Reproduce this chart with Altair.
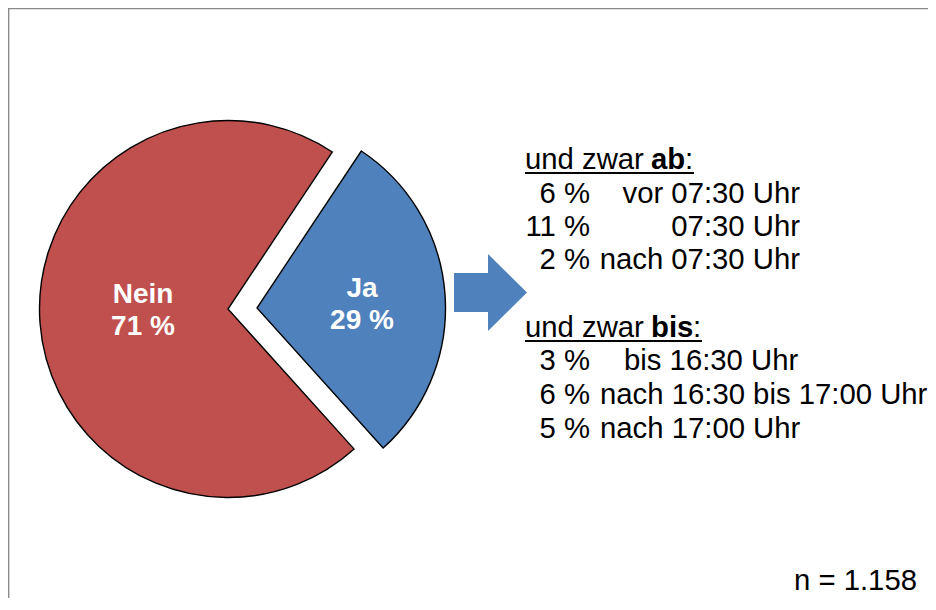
import math
import altair as alt
import pandas as pd

# ---- data ----
categories = ["Ja", "Nein"]
shares = [29, 71]
ab_shares = [6, 11, 2]
ab_times = ["vor 07:30 Uhr", "07:30 Uhr", "nach 07:30 Uhr"]
bis_shares = [3, 6, 5]
bis_times = ["bis 16:30 Uhr", "nach 16:30 bis 17:00 Uhr", "nach 17:00 Uhr"]
sample_note = "n = 1.158"

# ---- style / layout ----
RED = "#C0504D"
BLUE = "#4F81BD"
FONT = "Liberation Sans"
W, H = 920, 590
start_angle = math.radians(33.6)
radius = 188.5

pie_df = pd.DataFrame({"cat": categories, "share": shares})
pie_df["end"] = pie_df["share"].cumsum()
pie_df["start"] = pie_df["end"] - pie_df["share"]
pie_df["label"] = pie_df["share"].astype(str) + " %"

theta_scale = alt.Scale(domain=[0, 100], range=[start_angle, start_angle + 2 * math.pi])
color_scale = alt.Scale(domain=categories, range=[BLUE, RED])

centers = {"Nein": (220, 301), "Ja": (249, 300)}
label_pos = {"Nein": (135, 295), "Ja": (354, 289)}

layers = []

# frame
frame_df = pd.DataFrame({"a": [0]})
layers.append(alt.Chart(frame_df).mark_rule(color="#8a8a8a", strokeWidth=1.5).encode(
    x=alt.value(0), x2=alt.value(W), y=alt.value(0.6)))
layers.append(alt.Chart(frame_df).mark_rule(color="#8a8a8a", strokeWidth=1.5).encode(
    x=alt.value(0.6), y=alt.value(0), y2=alt.value(H)))

# pie slices (Ja exploded)
for cat in categories:
    cx, cy = centers[cat]
    layers.append(
        alt.Chart(pie_df[pie_df["cat"] == cat])
        .mark_arc(outerRadius=radius, stroke="black", strokeWidth=1.4)
        .encode(
            theta=alt.Theta("start:Q", scale=theta_scale),
            theta2="end:Q",
            color=alt.Color("cat:N", scale=color_scale, legend=None),
            x=alt.value(cx),
            y=alt.value(cy),
        )
    )

# pie labels
lab_df = pie_df.copy()
lab_df["x"] = [label_pos[c][0] for c in lab_df["cat"]]
lab_df["y"] = [label_pos[c][1] for c in lab_df["cat"]]
lab_df["y2"] = lab_df["y"] + 32
layers.append(alt.Chart(lab_df).mark_text(font=FONT, fontSize=28, fontWeight="bold", color="white",
                                          align="center", baseline="alphabetic").encode(
    x=alt.X("x:Q", scale=None), y=alt.Y("y:Q", scale=None), text="cat:N"))
layers.append(alt.Chart(lab_df).mark_text(font=FONT, fontSize=28, fontWeight="bold", color="white",
                                          align="center", baseline="alphabetic").encode(
    x=alt.X("x:Q", scale=None), y=alt.Y("y2:Q", scale=None), text="label:N"))

# arrow
arrow_path = ("M -0.948 -0.506 L -0.065 -0.506 L -0.065 -1 L 0.948 0 "
              "L -0.065 1 L -0.065 0.506 L -0.948 0.506 Z")
layers.append(alt.Chart(frame_df).mark_point(shape=arrow_path, size=77 * 77, filled=True,
                                             color=BLUE, opacity=1, strokeWidth=0).encode(
    x=alt.value(482.5), y=alt.value(284.5)))

# headers
hdr_df = pd.DataFrame({"t": ["und zwar", "und zwar"], "b": ["ab", "bis"],
                       "y": [161, 329], "cx": [677, 685]})
txt = dict(font=FONT, fontSize=29.3, color="black", baseline="alphabetic")
layers.append(alt.Chart(hdr_df).mark_text(align="left", **txt).encode(
    x=alt.value(517), y=alt.Y("y:Q", scale=None), text="t:N"))
layers.append(alt.Chart(hdr_df).mark_text(align="left", fontWeight="bold", **txt).encode(
    x=alt.value(643), y=alt.Y("y:Q", scale=None), text="b:N"))
layers.append(alt.Chart(hdr_df.assign(c=":")).mark_text(align="left", **txt).encode(
    x=alt.X("cx:Q", scale=None), y=alt.Y("y:Q", scale=None), text="c:N"))
ul_df = pd.DataFrame({"x1": [517, 517], "x2": [686, 694], "y": [165, 333]})
layers.append(alt.Chart(ul_df).mark_rule(color="black", strokeWidth=2).encode(
    x=alt.X("x1:Q", scale=None), x2="x2:Q", y=alt.Y("y:Q", scale=None)))

# detail lines
ab_df = pd.DataFrame({"pct": [f"{v} %" for v in ab_shares], "time": ab_times,
                      "y": [195, 228, 261]})
bis_df = pd.DataFrame({"pct": [f"{v} %" for v in bis_shares], "time": bis_times,
                       "y": [362, 396, 430], "x": [616, 592, 592]})
for df in (ab_df, bis_df):
    layers.append(alt.Chart(df).mark_text(align="right", **txt).encode(
        x=alt.value(582), y=alt.Y("y:Q", scale=None), text="pct:N"))
layers.append(alt.Chart(ab_df).mark_text(align="right", **txt).encode(
    x=alt.value(792), y=alt.Y("y:Q", scale=None), text="time:N"))
layers.append(alt.Chart(bis_df).mark_text(align="left", **txt).encode(
    x=alt.X("x:Q", scale=None), y=alt.Y("y:Q", scale=None), text="time:N"))

# sample size
layers.append(alt.Chart(pd.DataFrame({"t": [sample_note]})).mark_text(align="right", **txt).encode(
    x=alt.value(909), y=alt.value(582), text="t:N"))

chart = (
    alt.layer(*layers)
    .properties(width=W, height=H, autosize="none", padding=0, background="white")
    .configure_view(strokeWidth=0, stroke="transparent")
)

chart.save("out.html", embed_options={"renderer": "svg", "actions": False})
